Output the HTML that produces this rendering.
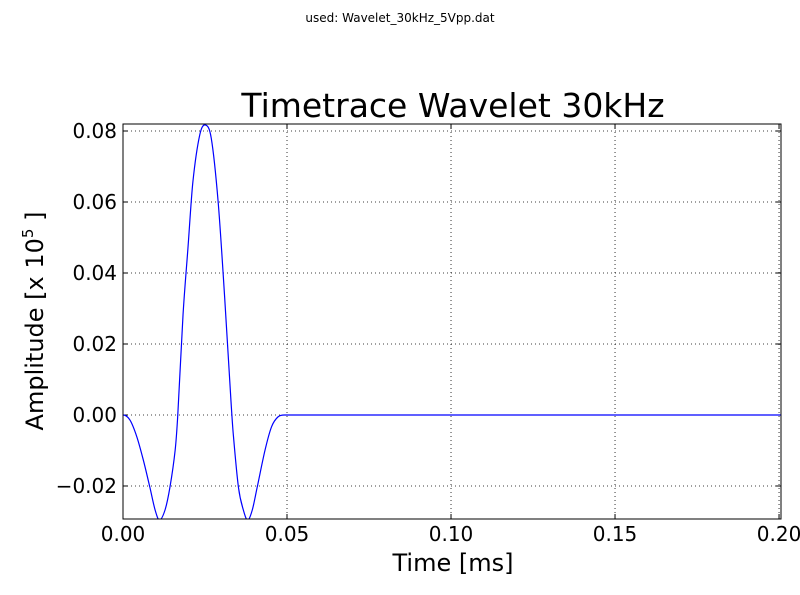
<!DOCTYPE html>
<html><head><meta charset="utf-8"><style>
html,body{margin:0;padding:0;background:#fff;}
svg{display:block;font-family:"DejaVu Sans","Liberation Sans",sans-serif;}
</style></head><body>
<svg id="chart" width="800" height="595" viewBox="0 0 800 595">
<text x="400" y="22" font-size="12" text-anchor="middle">used: Wavelet_30kHz_5Vpp.dat</text>
<text x="453" y="117" font-size="33" text-anchor="middle">Timetrace Wavelet 30kHz</text>
<defs><clipPath id="clip"><rect x="123" y="124" width="658" height="395"/></clipPath></defs>
<g id="grid"></g>
<g id="xticks"></g>
<g id="yticks"></g>
<path id="line" clip-path="url(#clip)" fill="none" stroke="#0000ff" stroke-width="1.2"/>
<rect x="123" y="124" width="658" height="395" fill="none" stroke="#000" stroke-width="1"/>
<text x="453" y="571" font-size="24" text-anchor="middle">Time [ms]</text>
<text transform="translate(43,321) rotate(-90)" font-size="24" text-anchor="middle">Amplitude [x 10<tspan font-size="15" dy="-10">5</tspan><tspan dy="10"> ]</tspan></text>
</svg>
<script>
const times=[0,0.0021,0.0042,0.0062,0.0082,0.0098,0.0111,0.0128,0.0143,0.0159,0.0167,0.0183,0.0198,0.0213,0.0234,0.0251,0.0269,0.0290,0.0310,0.0329,0.0336,0.0352,0.0367,0.0380,0.0394,0.0409,0.0433,0.0453,0.0473,0.0494,0.100,0.150,0.2006];
const amps=[0,-0.0014,-0.0061,-0.0127,-0.0204,-0.0268,-0.0296,-0.0268,-0.0204,-0.0099,0,0.0282,0.047,0.0656,0.0789,0.0817,0.078,0.0601,0.033,0.0042,-0.0052,-0.0204,-0.0268,-0.0296,-0.0268,-0.0204,-0.0099,-0.0033,-0.0005,0,0,0,0];
const xTicks=[0,0.05,0.10,0.15,0.20];
const xTickLabels=["0.00","0.05","0.10","0.15","0.20"];
const yTicks=[-0.02,0,0.02,0.04,0.06,0.08];
const yTickLabels=["\u22120.02","0.00","0.02","0.04","0.06","0.08"];
const X0=123,X1=781,Y0=124,Y1=519,xmin=0,xmax=0.2006,ymin=-0.0293,ymax=0.08197;
const sx=v=>X0+(v-xmin)/(xmax-xmin)*(X1-X0);
const sy=v=>Y1-(v-ymin)/(ymax-ymin)*(Y1-Y0);
const NS="http://www.w3.org/2000/svg";
function mk(tag,attrs,parent){const e=document.createElementNS(NS,tag);for(const k in attrs)e.setAttribute(k,attrs[k]);parent.appendChild(e);return e;}
const grid=document.getElementById('grid'),gx=document.getElementById('xticks'),gy=document.getElementById('yticks');
xTicks.forEach((t,i)=>{const x=sx(t);
 const g=mk('line',{x1:x,x2:x,y1:Y0,y2:Y1,stroke:'#000','stroke-width':0.8,'stroke-dasharray':'1,3'},grid);
 
 
 mk('line',{x1:x,x2:x,y1:Y1,y2:Y1-5,stroke:'#000'},gx);
 mk('line',{x1:x,x2:x,y1:Y0,y2:Y0+5,stroke:'#000'},gx);
 const l=mk('text',{x:x,y:541,'font-size':20,'text-anchor':'middle'},gx);l.textContent=xTickLabels[i];
 
 
});
yTicks.forEach((t,i)=>{const y=sy(t);
 const g=mk('line',{x1:X0,x2:X1,y1:y,y2:y,stroke:'#000','stroke-width':0.8,'stroke-dasharray':'1,3'},grid);
 
 
 mk('line',{x1:X0,x2:X0+5,y1:y,y2:y,stroke:'#000'},gy);
 mk('line',{x1:X1,x2:X1-5,y1:y,y2:y,stroke:'#000'},gy);
 const l=mk('text',{x:117,y:y+7,'font-size':20,'text-anchor':'end'},gy);l.textContent=yTickLabels[i];
 
 
});
const n=times.length;
const m=times.map((t,i)=>{
 if(i===0||i===n-1)return 0;
 if(amps[i]===0&&(amps[i-1]===0||amps[i+1]===0))return 0;
 return (amps[i+1]-amps[i-1])/(times[i+1]-times[i-1]);});
let d='M'+sx(times[0])+','+sy(amps[0]);
for(let i=0;i<n-1;i++){const h=times[i+1]-times[i];
 d+=' C'+sx(times[i]+h/3)+','+sy(amps[i]+m[i]*h/3)+' '+sx(times[i+1]-h/3)+','+sy(amps[i+1]-m[i+1]*h/3)+' '+sx(times[i+1])+','+sy(amps[i+1]);}
document.getElementById('line').setAttribute('d',d);
</script>
</body></html>
